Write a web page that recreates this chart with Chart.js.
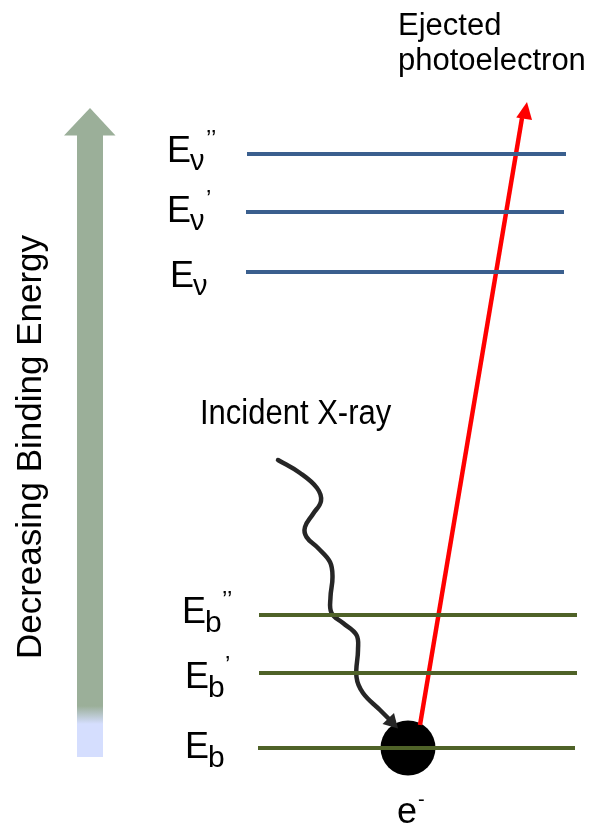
<!DOCTYPE html>
<html>
<head>
<meta charset="utf-8">
<script src="https://cdn.jsdelivr.net/npm/chart.js@4.4.1/dist/chart.umd.min.js"></script>
<style>
  html, body { margin: 0; padding: 0; background: #ffffff; }
  #wrap { width: 594px; height: 832px; position: relative; }
</style>
</head>
<body>
<div id="wrap"><canvas id="c"></canvas></div>
<script>
// ---- data (diagram values, in diagram units: x 0..594, y 0..832 top-down) ----
const levelNames   = ['E\u03BD\u2019\u2019', 'E\u03BD\u2019', 'E\u03BD', 'Eb\u2019\u2019', 'Eb\u2019', 'Eb'];
const levelMain    = ['E', 'E', 'E', 'E', 'E', 'E'];
const levelSub     = ['\u03BD', '\u03BD', '\u03BD', 'b', 'b', 'b'];
const levelSup     = ['\u2019\u2019', '\u2019', '', '\u2019\u2019', '\u2019', ''];
const levelValues  = [154, 212, 272, 615, 673, 748];
const levelStartX  = [247, 246, 246, 259, 259, 258];
const levelEndX    = [566, 564, 564, 577, 577, 575];

const photoX = [420, 522];
const photoY = [725, 118];

const waveX = [278, 300, 317, 321, 313, 305, 306.5, 318, 330, 332.5, 330.5, 331.5, 343, 356.5, 358, 356.5, 363, 380, 391];
const waveY = [460, 473, 488, 501, 514, 527, 537, 548, 562, 577, 597, 613, 623, 635, 650, 677, 693, 710, 721];

const electronX = [408];
const electronY = [748];

const titleTexts = ['Ejected', 'photoelectron', 'Incident X-ray', 'Decreasing Binding Energy'];

// ---- build datasets ----
const blue = '#3A5F8E';
const green = '#4F6228';
const datasets = [];
for (let i = 0; i < levelValues.length; i++) {
  datasets.push({
    label: levelNames[i],
    data: [{x: levelStartX[i], y: levelValues[i]}, {x: levelEndX[i], y: levelValues[i]}],
    showLine: true, borderColor: i < 3 ? blue : green, borderWidth: 4,
    pointRadius: 0, tension: 0, borderCapStyle: 'butt'
  });
}
datasets.push({
  label: 'photoelectron',
  data: photoX.map((x, i) => ({x, y: photoY[i]})),
  showLine: true, borderColor: '#FF0000', borderWidth: 4.5, pointRadius: 0
});
datasets.push({
  label: 'X-ray',
  data: waveX.map((x, i) => ({x, y: waveY[i]})),
  showLine: true, borderColor: '#262626', borderWidth: 4.5, pointRadius: 0,
  tension: 0.4, borderCapStyle: 'round'
});
datasets.push({
  label: 'electron',
  data: electronX.map((x, i) => ({x, y: electronY[i]})),
  showLine: false, pointRadius: 27.5, pointHoverRadius: 27.5,
  backgroundColor: '#000000', borderColor: '#000000', borderWidth: 0
});

function arrowHead(ctx, tx, ty, fromX, fromY, len, halfW, color) {
  const a = Math.atan2(ty - fromY, tx - fromX);
  ctx.save();
  ctx.translate(tx, ty);
  ctx.rotate(a);
  ctx.beginPath();
  ctx.moveTo(0, 0);
  ctx.lineTo(-len, -halfW);
  ctx.lineTo(-len, halfW);
  ctx.closePath();
  ctx.fillStyle = color;
  ctx.fill();
  ctx.restore();
}

function drawText(ctx, s, x, y, size, sy, align) {
  ctx.save();
  ctx.font = size + 'px "Liberation Sans", Arial, sans-serif';
  ctx.textAlign = align || 'left';
  ctx.textBaseline = 'alphabetic';
  ctx.translate(x, y);
  ctx.scale(1, sy || 1);
  ctx.fillStyle = '#000000';
  ctx.fillText(s, 0, 0);
  ctx.restore();
}

const decorPlugin = {
  id: 'decor',
  beforeDatasetsDraw(chart) {
    const ctx = chart.ctx, X = chart.scales.x, Y = chart.scales.y;
    // Left energy arrow
    const x0 = X.getPixelForValue(77), x1 = X.getPixelForValue(103);
    const top = Y.getPixelForValue(135), bot = Y.getPixelForValue(757);
    const g = ctx.createLinearGradient(0, top, 0, bot);
    g.addColorStop(0, '#9BAF99');
    g.addColorStop((706 - 135) / (757 - 135), '#9BAF99');
    g.addColorStop((724 - 135) / (757 - 135), '#D5DEFE');
    g.addColorStop(1, '#D5DEFE');
    ctx.save();
    ctx.fillStyle = g;
    ctx.fillRect(x0, top, x1 - x0, bot - top);
    ctx.beginPath();
    ctx.moveTo(X.getPixelForValue(90), Y.getPixelForValue(108));
    ctx.lineTo(X.getPixelForValue(115.5), Y.getPixelForValue(135.5));
    ctx.lineTo(X.getPixelForValue(64), Y.getPixelForValue(135.5));
    ctx.closePath();
    ctx.fillStyle = '#9BAF99';
    ctx.fill();
    ctx.restore();
  },
  afterDatasetsDraw(chart) {
    const ctx = chart.ctx, X = chart.scales.x, Y = chart.scales.y;
    const px = v => X.getPixelForValue(v), py = v => Y.getPixelForValue(v);
    // arrowheads
    arrowHead(ctx, px(527), py(102), px(photoX[0]), py(photoY[0]), 17, 8, '#FF0000');
    const n = waveX.length;
    arrowHead(ctx, px(398), py(728.5), px(waveX[n - 2]), py(waveY[n - 2]), 14, 8, '#262626');

    // level labels
    const eX = [167, 167, 170, 182, 185, 185];
    const eBase = [162, 222, 287, 623, 688, 758];
    for (let i = 0; i < levelValues.length; i++) {
      const isNu = i < 3;
      drawText(ctx, levelMain[i], px(eX[i]), py(eBase[i]), 36, 1.05);
      ctx.save();
      ctx.font = '36px "Liberation Sans", Arial, sans-serif';
      const w = ctx.measureText('E').width;
      ctx.restore();
      drawText(ctx, levelSub[i], px(eX[i]) + w - 1, py(eBase[i] + (isNu ? 8 : 9)), isNu ? 29 : 30, 1);
      if (levelSup[i]) {
        drawText(ctx, levelSup[i], px(eX[i]) + w + (isNu ? 15 : 16), py(eBase[i] - 15), 24, 1);
      }
    }
    // other text
    drawText(ctx, titleTexts[0], px(398), py(35), 31, 1);
    drawText(ctx, titleTexts[1], px(398), py(70), 31, 1);
    drawText(ctx, titleTexts[2], px(200), py(424), 31, 1.12);
    // electron label
    drawText(ctx, 'e', px(397), py(823), 36, 1);
    drawText(ctx, '-', px(418), py(806), 20, 1);
    // vertical text
    ctx.save();
    ctx.translate(px(41), py(447));
    ctx.rotate(-Math.PI / 2);
    ctx.font = '35px "Liberation Sans", Arial, sans-serif';
    ctx.textAlign = 'center';
    ctx.textBaseline = 'alphabetic';
    ctx.fillStyle = '#000000';
    ctx.fillText(titleTexts[3], 0, 0);
    ctx.restore();
  }
};

new Chart(document.getElementById('c'), {
  type: 'scatter',
  data: { datasets },
  options: {
    responsive: true,
    maintainAspectRatio: false,
    animation: false,
    devicePixelRatio: 1,
    layout: { padding: 0, autoPadding: false },
    plugins: { legend: { display: false }, tooltip: { enabled: false } },
    scales: {
      x: { type: 'linear', min: 0, max: 594, display: false },
      y: { type: 'linear', min: 0, max: 832, reverse: true, display: false }
    }
  },
  plugins: [decorPlugin]
});
</script>
</body>
</html>
